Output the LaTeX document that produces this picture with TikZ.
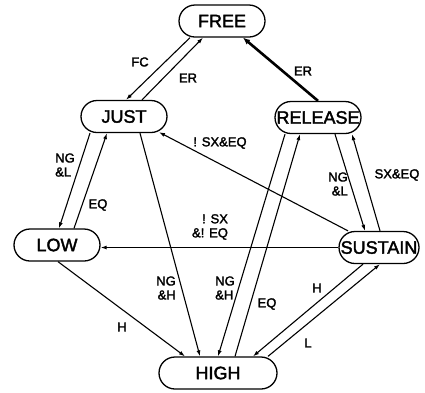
\documentclass[tikz,border=0pt]{standalone}
\usepackage{fontspec}
\setmainfont{Liberation Sans}[BoldFont={Liberation Sans}, BoldFeatures={FakeBold=2}]
\usetikzlibrary{shapes.misc,arrows.meta}

\begin{document}
\begin{tikzpicture}[
  x=1pt, y=-1pt,
  st/.style={rounded rectangle, draw, line width=1.3pt, minimum height=32pt,
    minimum width=98pt, inner xsep=6pt, font=\fontsize{18}{20}\selectfont\bfseries},
  tr/.style={line width=1.1pt, -{Latex[length=6pt,width=4pt]}},
  trB/.style={line width=2.6pt, -{Latex[length=7pt,width=6pt]}},
  lab/.style={font=\fontsize{13}{14}\selectfont\bfseries, inner sep=0pt, align=left}
]
\useasboundingbox (0,0) rectangle (425,392);

% --- states ---
\node[st] (FREE)    at (222,21)    {FREE};
\node[st] (JUST)    at (124,116.5) {JUST};
\node[st] (RELEASE) at (318,117.5) {RELEASE};
\node[st] (LOW)     at (57,245)    {LOW};
\node[st, minimum width=92pt] (SUSTAIN) at (379,247.5) {SUSTAIN};
\node[st, minimum width=130pt] (HIGH)   at (218,373) {HIGH};

% --- transitions ---
\draw[tr] ([xshift=-32pt]FREE.south) -- ([xshift=2pt]JUST.north);
\draw[tr] ([xshift=18pt]JUST.north) -- ([xshift=-19pt]FREE.south);
\draw[trB] (RELEASE.north) -- ([xshift=21pt]FREE.south);
\draw[tr] ([xshift=-34pt]JUST.south) -- ([xshift=2pt]LOW.north);
\draw[tr] ([xshift=17pt]LOW.north) -- ([xshift=-17pt]JUST.south);
\draw[tr] ([xshift=16pt]JUST.south) -- ([xshift=-18pt]HIGH.north);
\draw[tr] ([xshift=-31pt]SUSTAIN.north) -- ([xshift=35pt,yshift=1pt]JUST.south);
\draw[tr] ([xshift=-33pt]RELEASE.south) -- (HIGH.north);
\draw[tr] ([xshift=17pt]HIGH.north) -- ([xshift=-18pt]RELEASE.south);
\draw[tr] ([xshift=17pt]RELEASE.south) -- ([xshift=-14pt]SUSTAIN.north);
\draw[tr] ([xshift=1pt]SUSTAIN.north) -- ([xshift=34pt]RELEASE.south);
\draw[tr] (SUSTAIN.west) -- (SUSTAIN.west -| LOW.east);
\draw[tr] ([xshift=1pt]LOW.south) -- ([xshift=-33pt]HIGH.north);
\draw[tr] ([xshift=-16pt]SUSTAIN.south) -- ([xshift=35pt]HIGH.north);
\draw[tr] ([xshift=50pt]HIGH.north) -- ([xshift=1pt]SUSTAIN.south);

% --- conditions ---
\node[lab] (fc)    at (140,62)  {FC};
\node[lab] (er1)   at (188,78)  {ER};
\node[lab] (er2)   at (303,71)  {ER};
\node[lab] (nsxeq) at (220,143) {! SX\&EQ};
\node[lab] (ngl1)  at (65,165)  {NG\\\&L};
\node[lab] (eq1)   at (98,205)  {EQ};
\node[lab] (sxeq)  at (397,175) {SX\&EQ};
\node[lab, align=right] (ngl2) at (338,184) {NG\\\&L};
\node[lab, align=right] (nsx)  at (210,227) {! SX\\\&! EQ};
\node[lab, align=right] (ngh1) at (166,288) {NG\\\&H};
\node[lab] (ngh2)  at (225,288) {NG\\\&H};
\node[lab] (eq2)   at (267,304) {EQ};
\node[lab] (h1)    at (122,327) {H};
\node[lab] (h2)    at (317,288) {H};
\node[lab] (l1)    at (308,343) {L};

\end{tikzpicture}
\end{document}
